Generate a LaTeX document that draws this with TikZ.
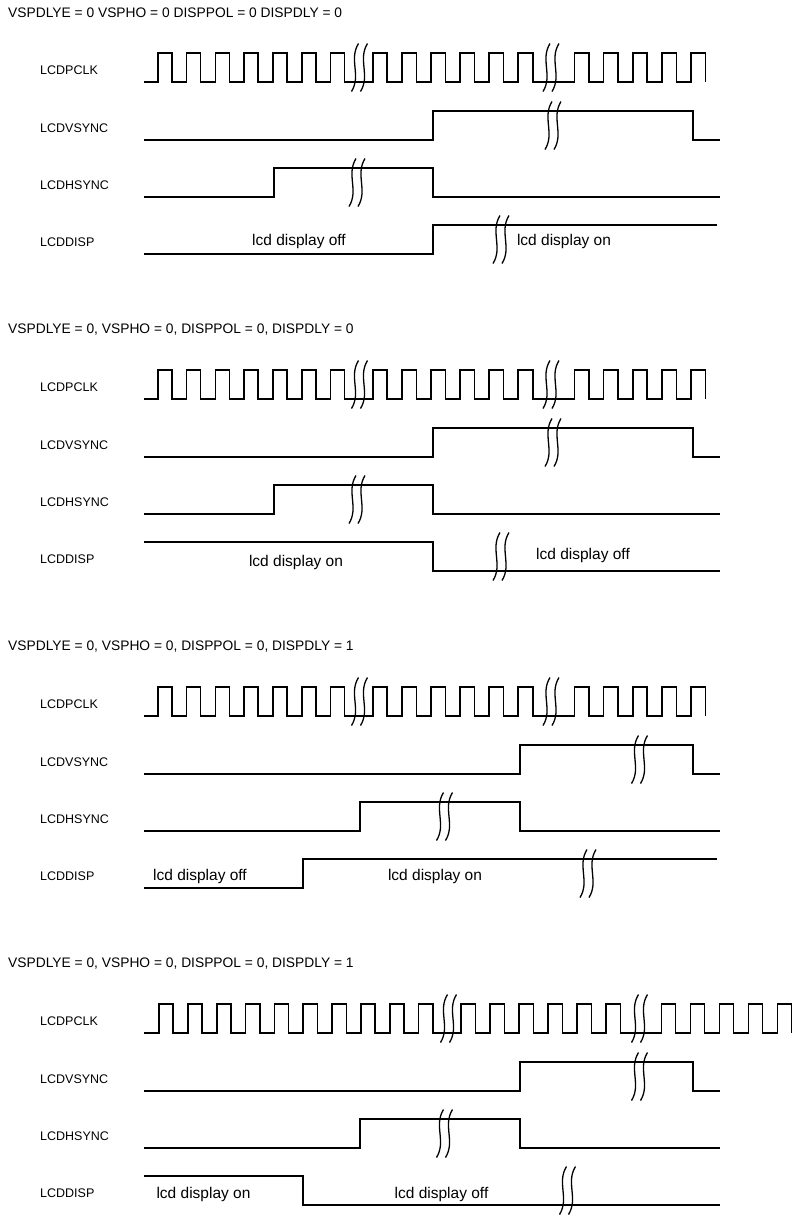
\documentclass[tikz,border=0pt]{standalone}
\usepackage{fontspec}
\setmainfont{Liberation Sans}
\newcommand{\mybrk}[2]{%
  \draw[brkline] ({#1-1},{#2-24}) .. controls ({#1-11},{#2-8}) and ({#1+2},{#2+8}) .. ({#1-8},{#2+24});
  \draw[brkline] ({#1+8},{#2-24}) .. controls ({#1-2},{#2-8}) and ({#1+11},{#2+8}) .. ({#1+1},{#2+24});}
\newcommand{\myclockstd}{%
  \draw[sig] (144,82)
    foreach \k in {0,...,6} { -- ({157.7+28.8*\k},82) -- ({157.7+28.8*\k},53) -- ({171.7+28.8*\k},53) -- ({171.7+28.8*\k},82) }
    foreach \k in {0,...,5} { -- ({372.7+29.1*\k},82) -- ({372.7+29.1*\k},53) -- ({387.2+29.1*\k},53) -- ({387.2+29.1*\k},82) }
    foreach \k in {0,...,4} { -- ({574.5+29.1*\k},82) -- ({574.5+29.1*\k},53) -- ({589+29.1*\k},53) -- ({589+29.1*\k},82) };
  \mybrk{359.5}{67.5}
  \mybrk{551}{67.5}}
\begin{document}
\begin{tikzpicture}[x=1pt,y=-1pt,
  sig/.style={line width=1.6pt, line join=miter},
  brkline/.style={line width=1.3pt},
  lbl/.style={anchor=west, inner sep=0pt, font=\fontsize{12.5}{14}\selectfont},
  hdr/.style={anchor=west, inner sep=0pt, font=\fontsize{13.8}{16}\selectfont},
  txt/.style={inner sep=0pt, font=\fontsize{15.5}{18}\selectfont}]
\fill[white] (0,0) rectangle (792,1216);
\useasboundingbox (0,0) rectangle (792,1216);

% ---------------- Panel 1 ----------------
\begin{scope}[shift={(0,0)}]
  \node[hdr] (h1) at (8,13) {VSPDLYE = 0 VSPHO = 0 DISPPOL = 0 DISPDLY = 0};
  \node[lbl] (p1clk) at (40,70) {LCDPCLK};
  \node[lbl] (p1vs) at (40,128) {LCDVSYNC};
  \node[lbl] (p1hs) at (40,185) {LCDHSYNC};
  \node[lbl] (p1dp) at (40,242) {LCDDISP};
  \myclockstd
  \draw[sig] (144,140) -- (433,140) -- (433,111) -- (693,111) -- (693,140) -- (720,140);
  \mybrk{553}{125.5}
  \draw[sig] (144,197) -- (274,197) -- (274,168) -- (433,168) -- (433,197) -- (720,197);
  \mybrk{357}{182.5}
  \draw[sig] (144,254) -- (433,254) -- (433,225) -- (717,225);
  \mybrk{501}{239.5}
  \node[txt] (p1t1) at (299,241) {lcd display off};
  \node[txt] (p1t2) at (564,241) {lcd display on};
\end{scope}

% ---------------- Panel 2 ----------------
\begin{scope}[shift={(0,317)}]
  \node[hdr] (h2) at (8,13) {VSPDLYE = 0, VSPHO = 0, DISPPOL = 0, DISPDLY = 0};
  \node[lbl] (p2clk) at (40,70) {LCDPCLK};
  \node[lbl] (p2vs) at (40,128) {LCDVSYNC};
  \node[lbl] (p2hs) at (40,185) {LCDHSYNC};
  \node[lbl] (p2dp) at (40,242) {LCDDISP};
  \myclockstd
  \draw[sig] (144,140) -- (433,140) -- (433,111) -- (693,111) -- (693,140) -- (720,140);
  \mybrk{553}{125.5}
  \draw[sig] (144,197) -- (274,197) -- (274,168) -- (433,168) -- (433,197) -- (720,197);
  \mybrk{357}{182.5}
  \draw[sig] (144,225) -- (433,225) -- (433,254) -- (720,254);
  \mybrk{501}{239.5}
  \node[txt] (p2t1) at (296,245) {lcd display on};
  \node[txt] (p2t2) at (583,238.5) {lcd display off};
\end{scope}

% ---------------- Panel 3 ----------------
\begin{scope}[shift={(0,634)}]
  \node[hdr] (h3) at (8,13) {VSPDLYE = 0, VSPHO = 0, DISPPOL = 0, DISPDLY = 1};
  \node[lbl] (p3clk) at (40,70) {LCDPCLK};
  \node[lbl] (p3vs) at (40,128) {LCDVSYNC};
  \node[lbl] (p3hs) at (40,185) {LCDHSYNC};
  \node[lbl] (p3dp) at (40,242) {LCDDISP};
  \myclockstd
  \draw[sig] (144,140) -- (520,140) -- (520,111) -- (693,111) -- (693,140) -- (720,140);
  \mybrk{639.5}{125.5}
  \draw[sig] (144,197) -- (360,197) -- (360,168) -- (520,168) -- (520,197) -- (720,197);
  \mybrk{444.5}{182.5}
  \draw[sig] (144,254) -- (303,254) -- (303,225) -- (717,225);
  \mybrk{588}{239.5}
  \node[txt] (p3t1) at (200,242) {lcd display off};
  \node[txt] (p3t2) at (435,242) {lcd display on};
\end{scope}

% ---------------- Panel 4 ----------------
\begin{scope}[shift={(0,951)}]
  \node[hdr] (h4) at (8,13) {VSPDLYE = 0, VSPHO = 0, DISPPOL = 0, DISPDLY = 1};
  \node[lbl] (p4clk) at (40,70) {LCDPCLK};
  \node[lbl] (p4vs) at (40,128) {LCDVSYNC};
  \node[lbl] (p4hs) at (40,185) {LCDHSYNC};
  \node[lbl] (p4dp) at (40,242) {LCDDISP};
  \draw[sig] (144,82)
    foreach \k in {0,...,9} { -- ({159+28.85*\k},82) -- ({159+28.85*\k},53) -- ({173.2+28.85*\k},53) -- ({173.2+28.85*\k},82) }
    foreach \k in {0,...,5} { -- ({461+29*\k},82) -- ({461+29*\k},53) -- ({475.5+29*\k},53) -- ({475.5+29*\k},82) }
    foreach \k in {0,...,4} { -- ({661.5+29*\k},82) -- ({661.5+29*\k},53) -- ({675.3+29*\k},53) -- ({675.3+29*\k},82) };
  \mybrk{448.5}{67.5}
  \mybrk{639.5}{67.5}
  \draw[sig] (144,140) -- (520,140) -- (520,111) -- (693,111) -- (693,140) -- (720,140);
  \mybrk{639.5}{125.5}
  \draw[sig] (144,197) -- (360,197) -- (360,168) -- (520,168) -- (520,197) -- (720,197);
  \mybrk{444.5}{182.5}
  \draw[sig] (144,225) -- (303,225) -- (303,254) -- (720,254);
  \mybrk{567.5}{239.5}
  \node[txt] (p4t1) at (203.5,243) {lcd display on};
  \node[txt] (p4t2) at (441.5,243) {lcd display off};
\end{scope}
\end{tikzpicture}
\end{document}
